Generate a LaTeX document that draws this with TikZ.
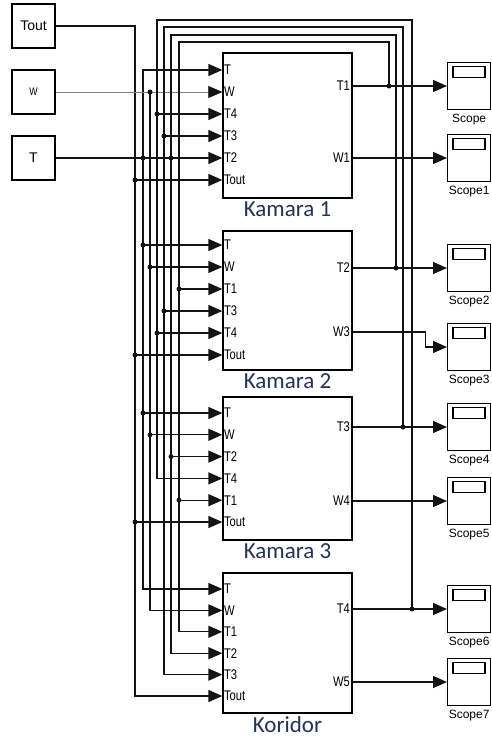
\documentclass[tikz,border=0pt]{standalone}
\usepackage{fontspec}
\setmainfont{Liberation Sans}
\newfontfamily\calibri{Carlito}
\newfontfamily\portfont[FakeStretch=0.8]{Liberation Sans}
\usetikzlibrary{arrows.meta, positioning, calc}
\definecolor{wirecolor}{RGB}{20,20,20}
\definecolor{lblcolor}{RGB}{35,50,85}
\tikzset{
  wire/.style     = {line width=1.3pt, color=wirecolor},
  sig/.style      = {wire, -{Triangle[length=14pt, width=12pt]}},
  sigs/.style     = {wire, {Triangle[length=14pt, width=12pt]}-{Triangle[length=14pt, width=12pt]}},
  wthin/.style    = {line width=0.7pt, color=gray, -{Triangle[length=14pt, width=12pt, color=wirecolor]}},
  jn/.style       = {circle, fill=wirecolor, inner sep=0pt, minimum size=5pt},
  src/.style      = {draw, line width=1.3pt, minimum width=43pt, minimum height=44pt,
                     font=\fontsize{14}{14}\selectfont},
  sub/.style      = {draw, line width=1.3pt, minimum width=129pt},
  inlbl/.style    = {anchor=west, inner sep=1.5pt, font=\portfont\fontsize{14}{14}\selectfont},
  outlbl/.style   = {anchor=east, inner sep=2.5pt, font=\portfont\fontsize{14}{14}\selectfont},
  sublbl/.style   = {font=\calibri\fontsize{23}{23}\selectfont, text=lblcolor, inner sep=1pt},
  scopebox/.style = {draw, line width=1.3pt, anchor=west, minimum width=43pt, minimum height=47pt},
  scopelbl/.style = {font=\fontsize{12}{12}\selectfont, inner sep=2pt}
}

\begin{document}
\begin{tikzpicture}[x=1pt, y=-1pt]
  \useasboundingbox (0,0) rectangle (491,740);

  % sources
  \node[src] (Tout) at (33.5,26) {Tout};
  \node[src, font=\portfont\fontsize{11}{11}\selectfont] (W) at (33.5,92) {W};
  \node[src] (T) at (33.5,158) {T};

  % rooms
  \node[sub, minimum height=145pt] (k1) at (287.5,125.5) {};
  \node[sub, minimum height=139pt] (k2) at (287.5,300.5) {};
  \node[sub, minimum height=143pt] (k3) at (287.5,468.5) {};
  \node[sub, minimum height=140pt] (kor) at (287.5,643) {};
  \node[sublbl, below=2pt of k1] (k1lbl) {Kamara 1};
  \node[sublbl, below=2pt of k2] (k2lbl) {Kamara 2};
  \node[sublbl, below=2pt of k3] (k3lbl) {Kamara 3};
  \node[sublbl, below=2pt of kor] (korlbl) {Koridor};

  % input ports
  \foreach \b/\y/\d/\names in {k1/70/22/{T,W,T4,T3,T2,Tout}, k2/245/22/{T,W,T1,T3,T4,Tout},
                               k3/413/21.8/{T,W,T2,T4,T1,Tout}, kor/589/21.4/{T,W,T1,T2,T3,Tout}} {
    \foreach \n [count=\i] in \names {
      \pgfmathsetmacro\yy{\y+(\i-1)*\d}
      \node[inlbl] (\b-in\i) at (\b.west |- 0,\yy) {\n};
    }
  }

  % output ports
  \node[outlbl] (k1-out1) at (k1.east |- 0,86) {T1};
  \node[outlbl] (k1-out2) at (k1.east |- 0,158) {W1};
  \node[outlbl] (k2-out1) at (k2.east |- 0,268) {T2};
  \node[outlbl] (k2-out2) at (k2.east |- 0,332) {W3};
  \node[outlbl] (k3-out1) at (k3.east |- 0,427) {T3};
  \node[outlbl] (k3-out2) at (k3.east |- 0,501) {W4};
  \node[outlbl] (kor-out1) at (kor.east |- 0,609) {T4};
  \node[outlbl] (kor-out2) at (kor.east |- 0,682) {W5};

  % scopes
  \foreach \s/\y/\l in {sc0/86/Scope, sc1/158/Scope1, sc2/268/Scope2, sc3/347/Scope3,
                        sc4/427/Scope4, sc5/501/Scope5, sc6/609/Scope6, sc7/682/Scope7} {
    \node[scopebox, label={[scopelbl, label distance=2pt]below:\l}] (\s) at (447,\y) {};
    \draw[line width=1.1pt] ($(\s.north west)+(6,5)$) rectangle ++(32,11);
  }

  % bus columns and feedback loops
  \coordinate (bTout) at (135,0);
  \coordinate (bT) at (143,0);
  \coordinate (bW) at (150,0);
  \coordinate (T4l) at (157,20);  \coordinate (T4r) at (412,20);
  \coordinate (T3l) at (164,27);  \coordinate (T3r) at (403,27);
  \coordinate (T2l) at (171,35);  \coordinate (T2r) at (396,35);
  \coordinate (T1l) at (179,42);  \coordinate (T1r) at (389,42);

  % Tout
  \draw[sig] (Tout.east) -| (bTout |- kor-in6.west) -- (kor-in6.west);
  \foreach \b in {k1,k2,k3}
    \draw[sig] (bTout |- \b-in6.west) node[jn]{} -- (\b-in6.west);

  % T
  \draw[sigs] (k1-in1.west) -| (bT |- kor-in1.west) -- (kor-in1.west);
  \draw[wire] (T.east) -- (T2l |- T.east);
  \node[jn] at (bT |- T.east) {};
  \foreach \b in {k2,k3}
    \draw[sig] (bT |- \b-in1.west) node[jn]{} -- (\b-in1.west);

  % W
  \draw[wthin] (W.east) -- (k1-in2.west);
  \draw[sig] (bW |- k1-in2.west) node[jn]{} |- (kor-in2.west);
  \foreach \b in {k2,k3}
    \draw[sig] (bW |- \b-in2.west) node[jn]{} -- (\b-in2.west);

  % T4 loop
  \draw[sig] (T4r |- kor-out1.east) node[jn]{} -- (T4r) -- (T4l) |- (k3-in4.west);
  \draw[sig] (T4l |- k1-in3.west) node[jn]{} -- (k1-in3.west);
  \draw[sig] (T4l |- k2-in5.west) node[jn]{} -- (k2-in5.west);

  % T3 loop
  \draw[sig] (T3r |- k3-out1.east) node[jn]{} -- (T3r) -- (T3l) |- (kor-in5.west);
  \draw[sig] (T3l |- k1-in4.west) node[jn]{} -- (k1-in4.west);
  \draw[sig] (T3l |- k2-in4.west) node[jn]{} -- (k2-in4.west);

  % T2 loop
  \draw[sig] (T2r |- k2-out1.east) node[jn]{} -- (T2r) -- (T2l) |- (kor-in4.west);
  \draw[sig] (T2l |- k1-in5.west) node[jn]{} -- (k1-in5.west);
  \draw[sig] (T2l |- k3-in3.west) node[jn]{} -- (k3-in3.west);

  % T1 loop
  \draw[sig] (T1r |- k1-out1.east) node[jn]{} -- (T1r) -- (T1l) |- (kor-in3.west);
  \draw[sig] (T1l |- k2-in3.west) node[jn]{} -- (k2-in3.west);
  \draw[sig] (T1l |- k3-in5.west) node[jn]{} -- (k3-in5.west);

  % outputs to scopes
  \draw[sig] (k1-out1.east) -- (sc0.west);
  \draw[sig] (k1-out2.east) -- (sc1.west);
  \draw[sig] (k2-out1.east) -- (sc2.west);
  \draw[sig] (k2-out2.east) -- ++(73,0) |- (sc3.west);
  \draw[sig] (k3-out1.east) -- (sc4.west);
  \draw[sig] (k3-out2.east) -- (sc5.west);
  \draw[sig] (kor-out1.east) -- (sc6.west);
  \draw[sig] (kor-out2.east) -- (sc7.west);
\end{tikzpicture}
\end{document}
